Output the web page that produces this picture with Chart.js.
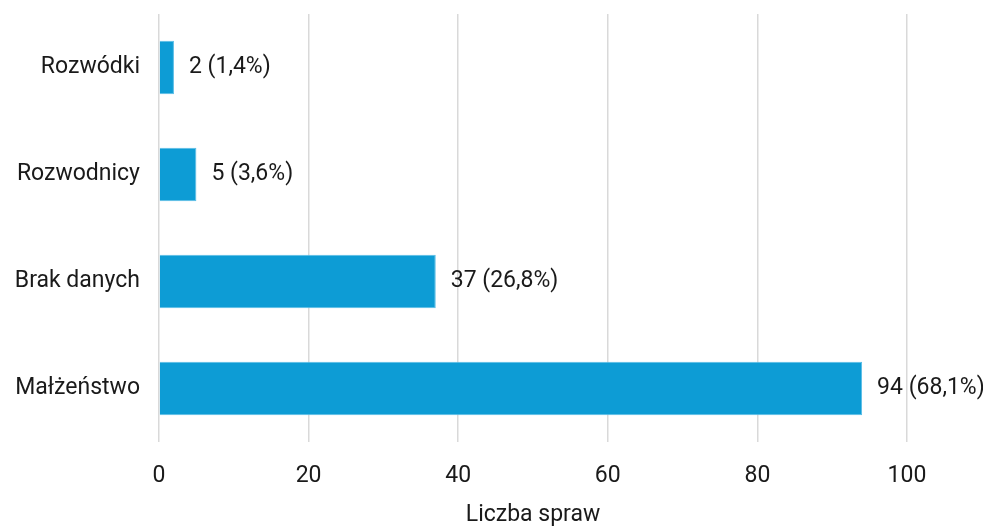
<!DOCTYPE html>
<html>
<head>
<meta charset="utf-8">
<script src="https://cdn.jsdelivr.net/npm/chart.js@4/dist/chart.umd.min.js"></script>
<style>
html,body{margin:0;padding:0;background:#fff;}
#wrap{width:983px;height:526px;}
</style>
</head>
<body>
<div id="wrap"><canvas id="c" width="983" height="526"></canvas></div>
<script>
const categories = ["Rozwódki", "Rozwodnicy", "Brak danych", "Małżeństwo"];
const values = [2, 5, 37, 94];
const percents = ["1,4%", "3,6%", "26,8%", "68,1%"];
const xTicks = [0, 20, 40, 60, 80, 100];
const axisTitle = "Liczba spraw";

const FONT = "Roboto, 'DejaVu Sans Condensed', sans-serif";
const FS = 23;
const TEXT = "#1a1a1a";

const valueLabels = {
  id: "valueLabels",
  afterDatasetsDraw(chart) {
    const ctx = chart.ctx;
    const meta = chart.getDatasetMeta(0);
    ctx.save();
    ctx.font = FS + "px " + FONT;
    ctx.fillStyle = TEXT;
    ctx.textAlign = "left";
    ctx.textBaseline = "middle";
    meta.data.forEach((bar, i) => {
      ctx.fillText(values[i] + " (" + percents[i] + ")", bar.x + 15, bar.y);
    });
    ctx.restore();
  }
};

new Chart(document.getElementById("c"), {
  type: "bar",
  data: {
    labels: categories,
    datasets: [{
      data: values,
      backgroundColor: "#0d9cd5",
      borderColor: "#58bde6",
      borderWidth: 1,
      barPercentage: 0.5,
      categoryPercentage: 1.0
    }]
  },
  options: {
    indexAxis: "y",
    responsive: false,
    animation: false,
    layout: { padding: { top: 14, right: 76, left: 0, bottom: 0 } },
    plugins: { legend: { display: false }, tooltip: { enabled: false } },
    scales: {
      x: {
        min: 0, max: 100,
        afterBuildTicks(scale) { scale.ticks = xTicks.map(v => ({ value: v })); },
        afterFit(scale) { scale.height = 84; scale.paddingLeft = 0; scale.paddingRight = 0; },
        grid: { color: "#d9d9d9", lineWidth: 1.5, drawTicks: false },
        border: { display: false },
        ticks: { color: TEXT, font: { family: FONT, size: FS }, padding: 20 },
        title: { display: true, text: axisTitle, color: TEXT, font: { family: FONT, size: FS }, padding: { top: 0, bottom: -3 } }
      },
      y: {
        afterFit(scale) { scale.width = 159; scale.paddingTop = 0; scale.paddingBottom = 0; },
        grid: { display: false, drawTicks: false },
        border: { display: false },
        ticks: { color: TEXT, font: { family: FONT, size: FS }, padding: 19 }
      }
    }
  },
  plugins: [valueLabels]
});
</script>
</body>
</html>
